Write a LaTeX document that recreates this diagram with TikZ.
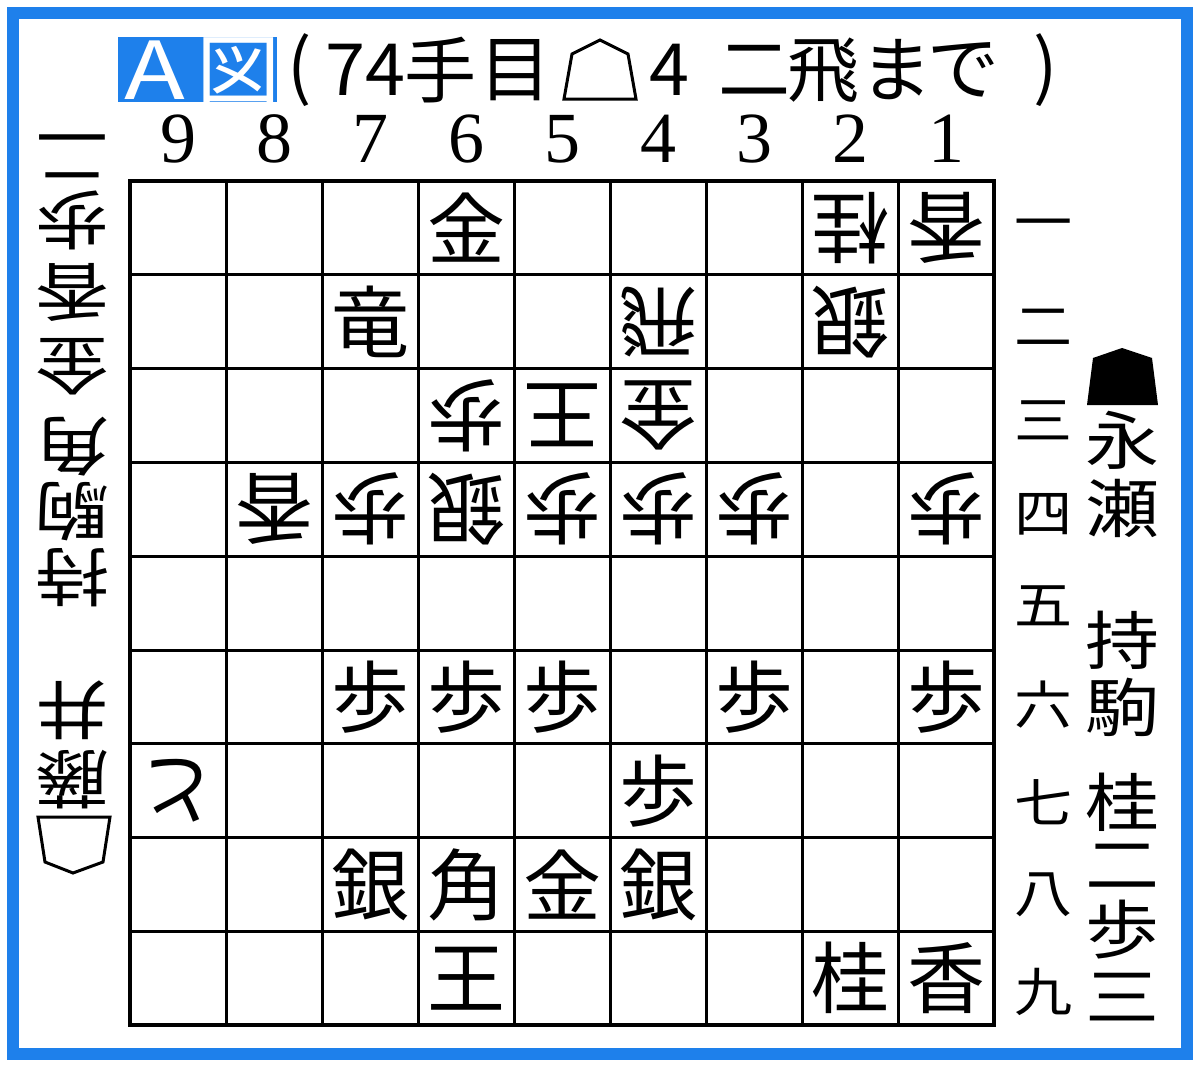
\documentclass[tikz,border=0pt]{standalone}
\usepackage{fontspec}
\usepackage{graphicx}
\setmainfont{Liberation Serif}
\newfontfamily\jp{Noto Sans CJK JP}
\definecolor{frameblue}{RGB}{30,128,235}
\tikzset{
  cjk/.style={font=\jp\fontsize{#1}{#1}\selectfont, inner sep=0pt},
  sente/.style={cjk=78},
  gote/.style={cjk=78, rotate=180},
  rankno/.style={cjk=58, yscale=0.9, transform shape},
  fileno/.style={font=\fontsize{72}{72}\selectfont, inner sep=0pt},
  namech/.style={cjk=74, yscale=0.86, transform shape},
  namechrot/.style={cjk=74, yscale=0.86, rotate=180, transform shape},
  gridline/.style={line width=3pt},
  pieceoutline/.style={line width=3pt, line join=miter},
}
\newcommand\piece[4]{\node[#1] (p#2#3) at ({178+(9-#2)*96},{227.9+(#3-1)*93.8}) {#4};}
\begin{document}
\begin{tikzpicture}[x=1pt,y=-1pt]
\useasboundingbox (0,0) rectangle (1200,1068);
\fill[white] (0,0) rectangle (1200,1068);
\draw[frameblue,line width=12pt] (13,13) rectangle (1187,1054);
% title
\fill[frameblue] (118,37) rectangle (277,102);
\node[cjk=80,text=white,xscale=1.25,transform shape] (tA) at (155,70) {A};
\node[cjk=78,text=white,xscale=1.08,transform shape] (tZu) at (239,72) {図};
\node[cjk=72] (t1) at (300,70) {(};
\node[cjk=72] (t2) at (365,70) {74};
\node[cjk=72] (t3) at (440,70) {手};
\node[cjk=72] (t4) at (515,70) {目};
\draw[pieceoutline] (600,40) -- (628,54) -- (636,99) -- (564,99) -- (572,54) -- cycle;
\node[cjk=72] (t5) at (669,70) {4};
\node[cjk=72] (t6) at (754,70) {二};
\node[cjk=72] (t7) at (823,70) {飛};
\node[cjk=72] (t8) at (896,70) {ま};
\node[cjk=72] (t9) at (963,70) {で};
\node[cjk=72] (t10) at (1046,70) {)};
% file numbers
\foreach \c in {9,...,1} {
  \node[fileno] (f\c) at ({178+(9-\c)*96},139) {\c};
}
% board
\foreach \i in {0,...,9} {
  \draw[gridline] ({130+96*\i},181) -- ({130+96*\i},1025);
  \draw[gridline] (130,{181+93.8*\i}) -- (994,{181+93.8*\i});
}
\draw[line width=4pt] (130,181) rectangle (994,1025);
% rank numbers
\node[rankno] (r1) at (1043,230) {一};
\node[rankno] (r2) at (1043,327) {二};
\node[rankno] (r3) at (1043,420) {三};
\node[rankno] (r4) at (1043,514) {四};
\node[rankno] (r5) at (1043,606) {五};
\node[rankno] (r6) at (1043,705) {六};
\node[rankno] (r7) at (1043,802) {七};
\node[rankno] (r8) at (1043,895) {八};
\node[rankno] (r9) at (1043,992) {九};
% sente pieces
\piece{sente}{6}{1}{金}
\piece{sente}{7}{2}{竜}
\piece{sente}{7}{6}{歩}
\piece{sente}{6}{6}{歩}
\piece{sente}{5}{6}{歩}
\piece{sente}{3}{6}{歩}
\piece{sente}{1}{6}{歩}
\piece{sente}{4}{7}{歩}
\piece{sente}{7}{8}{銀}
\piece{sente}{6}{8}{角}
\piece{sente}{5}{8}{金}
\piece{sente}{4}{8}{銀}
\piece{sente}{6}{9}{王}
\piece{sente}{2}{9}{桂}
\piece{sente}{1}{9}{香}
% gote pieces
\piece{gote}{2}{1}{桂}
\piece{gote}{1}{1}{香}
\piece{gote}{4}{2}{飛}
\piece{gote}{2}{2}{銀}
\piece{gote}{6}{3}{歩}
\piece{gote}{5}{3}{王}
\piece{gote}{4}{3}{金}
\piece{gote}{8}{4}{香}
\piece{gote}{7}{4}{歩}
\piece{gote}{6}{4}{銀}
\piece{gote}{5}{4}{歩}
\piece{gote}{4}{4}{歩}
\piece{gote}{3}{4}{歩}
\piece{gote}{1}{4}{歩}
\piece{gote}{9}{7}{と}
% right: sente player
\fill (1122,348) -- (1152,358) -- (1158,405) -- (1087,405) -- (1093,358) -- cycle;
\node[namech] (s1) at (1122,440) {永};
\node[namech] (s2) at (1122,508) {瀬};
\node[namech] (s3) at (1122,640) {持};
\node[namech] (s4) at (1122,707) {駒};
\node[namech] (s5) at (1122,802) {桂};
\node[namech] (s6) at (1122,866) {二};
\node[namech] (s7) at (1122,930) {歩};
\node[namech] (s8) at (1122,997) {三};
% left: gote player (rotated)
\node[namechrot] (g1) at (72,156) {二};
\node[namechrot] (g2) at (72,220) {歩};
\node[namechrot] (g3) at (72,292) {香};
\node[namechrot] (g4) at (72,367) {金};
\node[namechrot] (g5) at (72,447) {角};
\node[namechrot] (g6) at (72,512) {駒};
\node[namechrot] (g7) at (72,578) {持};
\node[namechrot] (g8) at (72,710) {井};
\node[namechrot] (g9) at (72,780) {藤};
\draw[pieceoutline] (38,817) -- (110,817) -- (103,862) -- (73,873) -- (45,862) -- cycle;
\end{tikzpicture}
\end{document}
